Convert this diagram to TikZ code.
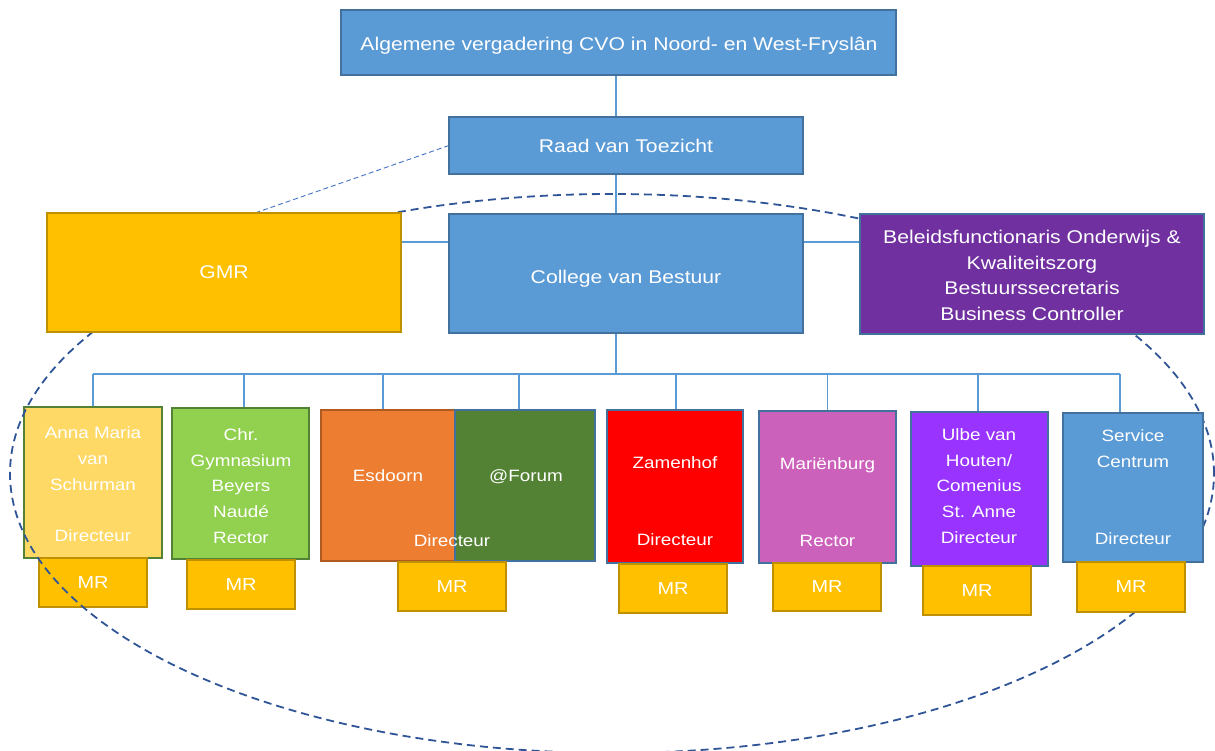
\documentclass[tikz,border=0pt]{standalone}
\usepackage{fontspec}
\setmainfont{Liberation Sans}[FakeStretch=1.15]
\usetikzlibrary{calc}
\pgfdeclarelayer{bg}
\pgfsetlayers{bg,main}
\definecolor{blueF}{HTML}{5B9BD5}
\definecolor{blueD}{HTML}{41719C}
\definecolor{goldF}{HTML}{FFC000}
\definecolor{goldD}{HTML}{BF9000}
\definecolor{purpF}{HTML}{7030A0}
\definecolor{annaF}{HTML}{FFD966}
\definecolor{greenD}{HTML}{538135}
\definecolor{chrF}{HTML}{92D050}
\definecolor{esdF}{HTML}{ED7D31}
\definecolor{esdD}{HTML}{AE5A21}
\definecolor{forumF}{HTML}{548235}
\definecolor{zamF}{HTML}{FF0000}
\definecolor{marF}{HTML}{CC61BB}
\definecolor{ulbeF}{HTML}{9933FF}
\definecolor{ellC}{HTML}{2F5597}
\definecolor{dashC}{HTML}{4472C4}
\begin{document}
\begin{tikzpicture}[x=1pt,y=-1pt,
  box/.style={rectangle, inner sep=0pt, outer sep=0pt, line width=1.4pt, anchor=north west},
  txt/.style={text=white, inner sep=0pt, outer sep=0pt, align=center},
  big/.style={font=\fontsize{18.4}{25.6}\selectfont},
  sch/.style={font=\fontsize{16.4}{25.7}\selectfont},
  mrbox/.style={box, draw=goldD, fill=goldF, text=white, font=\fontsize{17.3}{20}\selectfont, minimum height=49pt, minimum width=108pt},
  conn/.style={draw=blueF, line width=1.1pt},
  ell/.style={draw=ellC, line width=1.8pt, dash pattern=on 8pt off 5pt}
]
\useasboundingbox (0,0) rectangle (1215,751);

% top level
\node[box, draw=blueD, fill=blueF, minimum width=555pt, minimum height=65pt] (avg) at (341,10) {};
\node[txt, big, anchor=base] (avgT) at (619,50.6) {Algemene vergadering CVO in Noord- en West-Fryslân};
\node[box, draw=blueD, fill=blueF, minimum width=354pt, minimum height=57pt, text=white, big] (raad) at (449,117) {Raad van Toezicht};
\node[box, draw=blueD, fill=blueF, minimum width=354pt, minimum height=119pt] (cvb) at (449,214) {};
\node[txt, big, anchor=base] (cvbT) at (626,283.6) {College van Bestuur};

% schools
\node[box, draw=greenD, fill=annaF, minimum width=138pt, minimum height=151pt] (anna) at (24,407) {};
\node[txt, sch] (annaT) at (93,484.5) {Anna Maria\\van\\Schurman\\[25.7pt]Directeur};
\node[box, draw=greenD, fill=chrF, minimum width=137pt, minimum height=151pt] (chr) at (172,408) {};
\node[txt, sch] (chrT) at (241,486) {Chr.\\Gymnasium\\Beyers\\Naudé\\Rector};
\node[box, draw=esdD, fill=esdF, minimum width=134pt, minimum height=151pt] (esd) at (321,410) {};
\node[box, draw=blueD, fill=forumF, minimum width=140pt, minimum height=151pt] (forum) at (455,410) {};
\node[txt, sch, anchor=base] (esdT) at (388,481.9) {Esdoorn};
\node[txt, sch, anchor=base] (forumT) at (526,481.9) {@Forum};
\node[txt, sch, anchor=base] (esdDir) at (452,546.9) {Directeur};
\node[box, draw=blueD, fill=zamF, minimum width=136pt, minimum height=153pt] (zam) at (607,410) {};
\node[txt, sch] (zamT) at (675,501.5) {Zamenhof\\[51.4pt]Directeur};
\node[box, draw=blueD, fill=marF, minimum width=137pt, minimum height=152pt] (mar) at (759,411) {};
\node[txt, sch] (marT) at (827.5,502.5) {Mariënburg\\[51.4pt]Rector};
\node[box, draw=blueD, fill=ulbeF, minimum width=137pt, minimum height=154pt] (ulbe) at (911,412) {};
\node[txt, sch] (ulbeT) at (979,486) {Ulbe van\\Houten/\\Comenius\\St. Anne\\Directeur};

% MR boxes (under the ellipse)
\node[mrbox] (mr1) at (39,558) {MR};
\node[mrbox] (mr2) at (187,560) {MR};
\node[mrbox] (mr3) at (398,562) {MR};
\node[mrbox] (mr4) at (619,564) {MR};
\node[mrbox, minimum height=48pt] (mr5) at (773,563) {MR};
\node[mrbox] (mr6) at (923,566) {MR};

% dashed ellipse
\draw[ell] (612,473.5) ellipse [x radius=602pt, y radius=279.5pt];

% boxes over the ellipse
\node[box, draw=blueD, fill=blueF, minimum width=140pt, minimum height=149pt] (serv) at (1063,413) {};
\node[txt, sch] (servT) at (1133,487) {Service\\Centrum\\[51.4pt]Directeur};
\node[mrbox, minimum height=50pt] (mr7) at (1077,562) {MR};
\node[box, draw=goldD, fill=goldF, minimum width=354pt, minimum height=119pt, text=white, big] (gmr) at (47,213) {GMR};
\node[box, draw=blueD, fill=purpF, minimum width=344pt, minimum height=120pt] (bel) at (860,214) {};
\node[txt, big] (belT) at (1032,275.5) {Beleidsfunctionaris Onderwijs \&\\Kwaliteitszorg\\Bestuurssecretaris\\Business Controller};

% connectors
\begin{pgfonlayer}{bg}
\coordinate (vx) at (616,0);
\coordinate (hy) at (0,242);
\coordinate (busL) at (93,374);
\coordinate (busR) at (1120,374);
\draw[conn] (avg.south -| vx) -- (raad.north -| vx);
\draw[conn] (raad.south -| vx) -- (cvb.north -| vx);
\draw[conn] (cvb.south -| vx) -- (vx |- busL);
\draw[conn] (gmr.east |- hy) -- (cvb.west |- hy);
\draw[conn] (cvb.east |- hy) -- (bel.west |- hy);
\draw[conn] (busL) -- (busR);
\foreach \n/\dx in {anna/0, chr/3.5, esd/-5, forum/-6, zam/1, mar/0, ulbe/-1.5, serv/-13}{
  \path ([xshift=\dx pt]\n.north) coordinate (t\n);
  \draw[conn] (t\n) -- (t\n |- busL);
}
\path ([xshift=208pt]gmr.north west) coordinate (gmrTop);
\draw[draw=dashC, line width=0.9pt, dash pattern=on 5pt off 3pt] (raad.west) -- (gmrTop);
\end{pgfonlayer}
\end{tikzpicture}
\end{document}
